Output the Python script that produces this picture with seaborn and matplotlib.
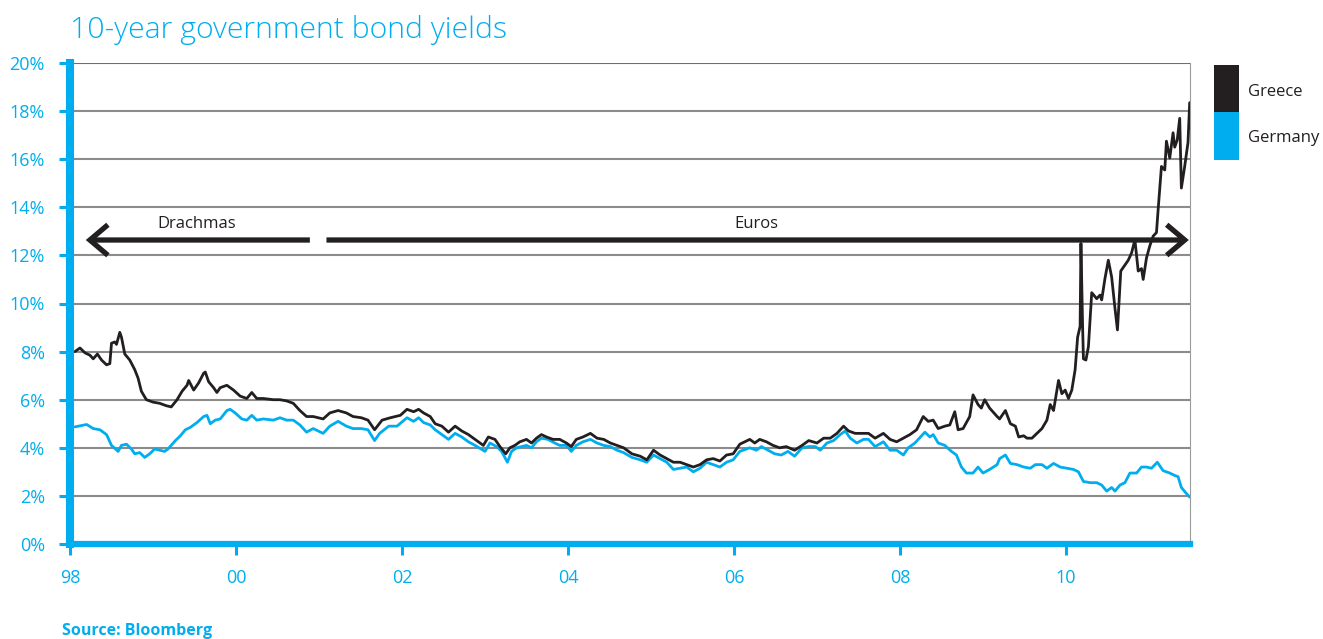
import numpy as np
import pandas as pd
import matplotlib
matplotlib.use("Agg")
import matplotlib.pyplot as plt
import seaborn as sns
from matplotlib.patches import Rectangle

# ---------------- data ----------------
greece_years = [
    1998.06, 1998.12, 1998.18, 1998.24, 1998.28, 1998.33, 1998.38, 1998.44, 1998.48, 1998.50,
    1998.54, 1998.56, 1998.60, 1998.62, 1998.66, 1998.72, 1998.78, 1998.82, 1998.86, 1998.92,
    1999.00, 1999.08, 1999.16, 1999.22, 1999.29, 1999.35, 1999.41, 1999.43, 1999.49, 1999.55,
    1999.61, 1999.63, 1999.67, 1999.73, 1999.77, 1999.81, 1999.89, 1999.97, 2000.05, 2000.13,
    2000.19, 2000.25, 2000.33, 2000.45, 2000.53, 2000.61, 2000.69, 2000.77, 2000.85, 2000.93,
    2001.05, 2001.13, 2001.23, 2001.33, 2001.41, 2001.51, 2001.59, 2001.67, 2001.76, 2001.86,
    2001.98, 2002.06, 2002.14, 2002.20, 2002.26, 2002.34, 2002.40, 2002.48, 2002.56, 2002.64,
    2002.72, 2002.80, 2002.88, 2002.98, 2003.04, 2003.12, 2003.18, 2003.25, 2003.30, 2003.36,
    2003.42, 2003.50, 2003.56, 2003.62, 2003.68, 2003.74, 2003.82, 2003.90, 2003.98, 2004.04,
    2004.10, 2004.18, 2004.27, 2004.35, 2004.43, 2004.51, 2004.59, 2004.67, 2004.77, 2004.87,
    2004.95, 2005.03, 2005.11, 2005.19, 2005.27, 2005.35, 2005.43, 2005.51, 2005.59, 2005.67,
    2005.75, 2005.83, 2005.91, 2005.99, 2006.07, 2006.19, 2006.25, 2006.31, 2006.39, 2006.47,
    2006.55, 2006.63, 2006.73, 2006.82, 2006.90, 2007.00, 2007.08, 2007.16, 2007.24, 2007.32,
    2007.38, 2007.46, 2007.56, 2007.62, 2007.70, 2007.80, 2007.88, 2007.96, 2008.04, 2008.12,
    2008.20, 2008.28, 2008.34, 2008.40, 2008.46, 2008.54, 2008.60, 2008.66, 2008.70, 2008.76,
    2008.84, 2008.88, 2008.94, 2008.98, 2009.02, 2009.08, 2009.17, 2009.20, 2009.27, 2009.33,
    2009.39, 2009.43, 2009.49, 2009.53, 2009.59, 2009.65, 2009.71, 2009.77, 2009.81, 2009.85,
    2009.91, 2009.95, 2009.99, 2010.03, 2010.07, 2010.11, 2010.14, 2010.17, 2010.18, 2010.20,
    2010.21, 2010.24, 2010.27, 2010.31, 2010.37, 2010.41, 2010.43, 2010.47, 2010.51, 2010.55,
    2010.59, 2010.62, 2010.66, 2010.70, 2010.75, 2010.79, 2010.83, 2010.87, 2010.91, 2010.93,
    2010.97, 2011.01, 2011.05, 2011.09, 2011.11, 2011.15, 2011.19, 2011.21, 2011.25, 2011.29,
    2011.31, 2011.34, 2011.37, 2011.39, 2011.43, 2011.47, 2011.49,
]
greece_yield = [
    8.0, 8.15, 7.95, 7.85, 7.7, 7.9, 7.65, 7.45, 7.5, 8.35,
    8.4, 8.3, 8.8, 8.6, 7.9, 7.65, 7.25, 6.9, 6.35, 6.0,
    5.9, 5.85, 5.75, 5.7, 6.0, 6.35, 6.6, 6.8, 6.4, 6.7,
    7.1, 7.15, 6.75, 6.5, 6.3, 6.5, 6.6, 6.4, 6.15, 6.05,
    6.3, 6.05, 6.05, 6.0, 6.0, 5.95, 5.85, 5.55, 5.3, 5.3,
    5.2, 5.45, 5.55, 5.45, 5.3, 5.25, 5.15, 4.75, 5.15, 5.25,
    5.35, 5.6, 5.5, 5.6, 5.45, 5.3, 5.0, 4.9, 4.65, 4.9,
    4.7, 4.55, 4.35, 4.1, 4.45, 4.35, 4.05, 3.75, 4.0, 4.1,
    4.25, 4.35, 4.2, 4.4, 4.55, 4.45, 4.35, 4.35, 4.2, 4.05,
    4.35, 4.45, 4.6, 4.4, 4.35, 4.2, 4.1, 4.0, 3.75, 3.65,
    3.5, 3.9, 3.7, 3.55, 3.4, 3.4, 3.3, 3.2, 3.3, 3.5,
    3.55, 3.45, 3.7, 3.75, 4.15, 4.35, 4.2, 4.35, 4.25, 4.1,
    4.0, 4.05, 3.9, 4.1, 4.3, 4.2, 4.4, 4.4, 4.6, 4.9,
    4.7, 4.6, 4.6, 4.6, 4.4, 4.6, 4.35, 4.25, 4.4, 4.55,
    4.75, 5.3, 5.1, 5.15, 4.8, 4.9, 4.95, 5.5, 4.75, 4.8,
    5.3, 6.2, 5.8, 5.65, 6.0, 5.65, 5.3, 5.2, 5.55, 5.0,
    4.9, 4.45, 4.5, 4.4, 4.4, 4.6, 4.8, 5.15, 5.8, 5.55,
    6.8, 6.25, 6.4, 6.05, 6.4, 7.25, 8.6, 9.05, 12.5, 9.05,
    7.7, 7.65, 8.2, 10.45, 10.2, 10.35, 10.15, 11.05, 11.8, 11.1,
    9.8, 8.9, 11.35, 11.55, 11.8, 12.1, 12.65, 11.35, 11.45, 11.0,
    11.9, 12.4, 12.8, 12.95, 13.9, 15.7, 15.55, 16.75, 16.05, 17.1,
    16.5, 16.8, 17.7, 14.8, 15.7, 16.7, 18.35,
]

germany_years = [
    1998.06, 1998.20, 1998.28, 1998.36, 1998.44, 1998.50, 1998.58, 1998.62, 1998.68, 1998.74,
    1998.78, 1998.84, 1998.90, 1998.96, 1999.02, 1999.08, 1999.14, 1999.18, 1999.27, 1999.33,
    1999.39, 1999.45, 1999.53, 1999.61, 1999.65, 1999.69, 1999.75, 1999.81, 1999.89, 1999.93,
    1999.99, 2000.07, 2000.13, 2000.19, 2000.25, 2000.33, 2000.45, 2000.53, 2000.61, 2000.69,
    2000.77, 2000.85, 2000.93, 2001.05, 2001.13, 2001.23, 2001.33, 2001.41, 2001.51, 2001.59,
    2001.67, 2001.73, 2001.84, 2001.94, 2002.06, 2002.14, 2002.20, 2002.26, 2002.34, 2002.40,
    2002.48, 2002.56, 2002.64, 2002.72, 2002.80, 2002.88, 2003.00, 2003.06, 2003.14, 2003.20,
    2003.27, 2003.32, 2003.38, 2003.44, 2003.50, 2003.56, 2003.62, 2003.68, 2003.76, 2003.84,
    2003.90, 2003.98, 2004.04, 2004.10, 2004.18, 2004.27, 2004.35, 2004.43, 2004.51, 2004.59,
    2004.67, 2004.77, 2004.87, 2004.95, 2005.03, 2005.11, 2005.19, 2005.27, 2005.35, 2005.43,
    2005.51, 2005.59, 2005.67, 2005.75, 2005.83, 2005.91, 2005.99, 2006.07, 2006.19, 2006.27,
    2006.33, 2006.41, 2006.49, 2006.57, 2006.65, 2006.73, 2006.82, 2006.90, 2006.98, 2007.04,
    2007.12, 2007.20, 2007.28, 2007.34, 2007.40, 2007.48, 2007.56, 2007.62, 2007.70, 2007.80,
    2007.88, 2007.96, 2008.04, 2008.10, 2008.18, 2008.26, 2008.30, 2008.36, 2008.40, 2008.46,
    2008.54, 2008.62, 2008.68, 2008.74, 2008.80, 2008.88, 2008.94, 2009.00, 2009.08, 2009.17,
    2009.20, 2009.27, 2009.33, 2009.41, 2009.49, 2009.57, 2009.63, 2009.71, 2009.77, 2009.85,
    2009.93, 2010.01, 2010.09, 2010.15, 2010.21, 2010.29, 2010.37, 2010.43, 2010.49, 2010.55,
    2010.59, 2010.65, 2010.71, 2010.77, 2010.85, 2010.91, 2010.97, 2011.03, 2011.10, 2011.17,
    2011.25, 2011.31, 2011.35, 2011.39, 2011.45, 2011.49,
]
germany_yield = [
    4.87, 4.97, 4.8, 4.75, 4.55, 4.1, 3.85, 4.1, 4.15, 3.95,
    3.75, 3.8, 3.6, 3.75, 3.95, 3.9, 3.85, 3.95, 4.3, 4.5,
    4.75, 4.85, 5.05, 5.3, 5.35, 5.0, 5.15, 5.2, 5.55, 5.6,
    5.45, 5.2, 5.15, 5.35, 5.15, 5.2, 5.15, 5.25, 5.15, 5.15,
    4.95, 4.65, 4.8, 4.6, 4.9, 5.1, 4.9, 4.8, 4.8, 4.75,
    4.3, 4.6, 4.9, 4.9, 5.25, 5.1, 5.25, 5.05, 4.95, 4.75,
    4.55, 4.35, 4.6, 4.45, 4.25, 4.1, 3.85, 4.2, 4.05, 3.85,
    3.4, 3.85, 4.0, 4.05, 4.1, 4.0, 4.25, 4.4, 4.35, 4.2,
    4.1, 4.1, 3.85, 4.1, 4.25, 4.35, 4.2, 4.1, 4.05, 3.9,
    3.8, 3.6, 3.5, 3.4, 3.7, 3.55, 3.4, 3.1, 3.15, 3.2,
    3.0, 3.15, 3.4, 3.3, 3.2, 3.4, 3.5, 3.85, 4.0, 3.9,
    4.05, 3.9, 3.75, 3.7, 3.85, 3.65, 4.0, 4.05, 4.05, 3.9,
    4.2, 4.3, 4.55, 4.7, 4.4, 4.2, 4.35, 4.35, 4.05, 4.25,
    3.9, 3.9, 3.7, 4.0, 4.2, 4.5, 4.65, 4.45, 4.55, 4.2,
    4.1, 3.85, 3.7, 3.2, 2.95, 2.95, 3.2, 2.95, 3.1, 3.3,
    3.55, 3.7, 3.35, 3.3, 3.2, 3.15, 3.3, 3.3, 3.15, 3.35,
    3.2, 3.15, 3.1, 3.0, 2.6, 2.55, 2.55, 2.45, 2.2, 2.35,
    2.2, 2.45, 2.55, 2.95, 2.95, 3.2, 3.2, 3.15, 3.4, 3.05,
    2.95, 2.85, 2.8, 2.35, 2.1, 1.95,
]

countries = ["Greece", "Germany"]
x_ticks = [1998, 2000, 2002, 2004, 2006, 2008, 2010]
x_tick_labels = ["98", "00", "02", "04", "06", "08", "10"]
y_ticks = [0, 2, 4, 6, 8, 10, 12, 14, 16, 18, 20]
y_tick_labels = [f"{v}%" for v in y_ticks]
title = "10-year government bond yields"
source = "Source: Bloomberg"
era_labels = ["Drachmas", "Euros"]

# ---------------- styling ----------------
BLUE = "#00AEEF"
BLACK = "#231F20"
GRID = "#8C8C8C"

sns.set_theme(style="white")
plt.rcParams["font.family"] = ["Open Sans", "DejaVu Sans"]

df = pd.concat([
    pd.DataFrame({"year": greece_years, "yield": greece_yield, "country": "Greece"}),
    pd.DataFrame({"year": germany_years, "yield": germany_yield, "country": "Germany"}),
], ignore_index=True)

fig = plt.figure(figsize=(13.23, 6.39), dpi=100)
ax = fig.add_axes([70 / 1323, 1 - 544 / 639, 1120 / 1323, 481 / 639])

for yv in y_ticks[1:]:
    ax.axhline(yv, color=GRID if yv < 20 else "#6E6E6E", lw=1.5, zorder=1)

sns.lineplot(data=df, x="year", y="yield", hue="country",
             hue_order=["Germany", "Greece"],
             palette={"Greece": BLACK, "Germany": BLUE},
             estimator=None, linewidth=2.0, legend=False, ax=ax, zorder=3)

ax.set_xlim(1998, 1998 + 1120 / 83)
ax.set_ylim(0, 20)
ax.set_xticks(x_ticks)
ax.set_xticklabels(x_tick_labels)
ax.set_yticks(y_ticks)
ax.set_yticklabels(y_tick_labels)
ax.set_xlabel("")
ax.set_ylabel("")
ax.grid(False)

ax.spines["top"].set_visible(False)
ax.spines["right"].set_visible(True)
ax.spines["right"].set_color("#9A9A9A")
ax.spines["right"].set_linewidth(0.8)
ax.spines["left"].set_color(BLUE)
ax.spines["left"].set_linewidth(5.8)
ax.spines["bottom"].set_color(BLUE)
ax.spines["bottom"].set_linewidth(4.5)
ax.spines["left"].set_zorder(5)
ax.spines["bottom"].set_zorder(5)

ax.tick_params(axis="y", direction="out", length=8, width=2.2, color=BLUE,
               labelcolor=BLUE, labelsize=13, pad=10, left=True)
ax.tick_params(axis="x", direction="out", length=8, width=2.2, color=BLUE,
               labelcolor=BLUE, labelsize=13, pad=10, bottom=True)

# era arrows
arrow_y = 12.64
arr_kw = dict(arrowstyle="->,head_length=0.65,head_width=0.55", lw=3.8,
              color=BLACK, shrinkA=0, shrinkB=0, mutation_scale=20,
              capstyle="butt", joinstyle="miter")
ax.annotate("", xy=(1998.19, arrow_y), xytext=(2000.89, arrow_y),
            arrowprops=arr_kw, zorder=6)
ax.annotate("", xy=(2011.48, arrow_y), xytext=(2001.09, arrow_y),
            arrowprops=arr_kw, zorder=6)
ax.text(1999.53, 13.3, era_labels[0], ha="center", va="center",
        fontsize=12, color=BLACK)
ax.text(2006.27, 13.3, era_labels[1], ha="center", va="center",
        fontsize=12, color=BLACK)

# title and source
fig.text(70 / 1323, 1 - 30 / 639, title, ha="left", va="center",
         fontsize=21.7, color=BLUE, fontweight="light")
fig.text(62 / 1323, 1 - 631 / 639, source, ha="left", va="center",
         fontsize=11.5, color=BLUE, fontweight="bold")

# legend blocks
fig.patches.append(Rectangle((1214 / 1323, 1 - 112 / 639), 25 / 1323, 47 / 639,
                             transform=fig.transFigure, color=BLACK, lw=0))
fig.patches.append(Rectangle((1214 / 1323, 1 - 160 / 639), 25 / 1323, 48 / 639,
                             transform=fig.transFigure, color=BLUE, lw=0))
fig.text(1248 / 1323, 1 - 92 / 639, countries[0], ha="left", va="center",
         fontsize=12, color=BLACK)
fig.text(1248 / 1323, 1 - 138 / 639, countries[1], ha="left", va="center",
         fontsize=12, color=BLACK)

fig.savefig("out.png", dpi=100)
